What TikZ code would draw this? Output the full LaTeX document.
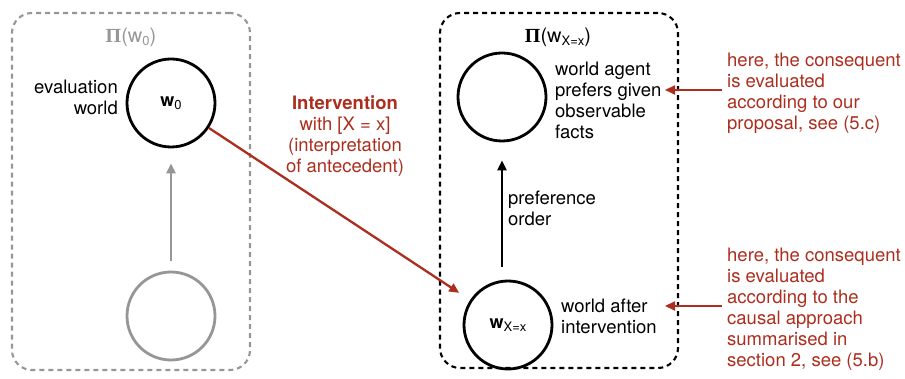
\documentclass[tikz,border=0pt]{standalone}
\usepackage{fontspec}
\setmainfont{TeX Gyre Heros}
\newfontfamily\pifont{Liberation Serif}
\usetikzlibrary{arrows.meta}
\definecolor{myred}{RGB}{172,46,30}
\definecolor{mygray}{RGB}{150,150,150}
\newcommand\subx[1]{\raisebox{-0.35ex}{\fontsize{13}{13}\selectfont\mdseries #1}}
\begin{document}
\begin{tikzpicture}[x=1pt,y=-1pt,
  world/.style={circle, draw, line width=2.8pt, minimum size=88pt, inner sep=0pt, font=\fontsize{18}{21}\selectfont\bfseries},
  lbl/.style={font=\fontsize{18.5}{21}\selectfont, inner sep=0pt},
  note/.style={lbl, text=myred, align=left},
  frame/.style={rectangle, rounded corners=20pt, line width=2.1pt, dash pattern=on 5pt off 4pt, inner sep=0pt},
  ttl/.style={inner sep=0pt, font=\fontsize{20}{22}\selectfont},
  tip/.style={-{Triangle[length=10pt,width=9pt]}, line width=2.3pt}]
\useasboundingbox (0,0) rectangle (905,379);
% frames
\node[frame, draw=mygray, minimum width=238pt, minimum height=357pt] (box0) at (131,191.5) {};
\node[frame, draw=black, minimum width=238pt, minimum height=355pt] (box1) at (559,190.5) {};
% titles
\node[ttl, text=mygray] (t0) at (131,37) {{\pifont\bfseries Π}(w\subx{0})};
\node[ttl] (t1) at (558,37) {{\pifont\bfseries Π}(w\subx{X=x})};
% worlds
\node[world] (w0) at (171,103) {w\subx{0}};
\node[world, draw=mygray] (g0) at (171,316) {};
\node[world] (wp) at (502,97) {};
\node[world] (wx) at (508,325) {w\subx{X=x}};
% labels
\node[lbl, align=right, anchor=east] (ev) at (118,97) {evaluation\\world};
\node[lbl, align=left, anchor=west] (pf) at (555,100) {world agent\\prefers given\\observable\\facts};
\node[lbl, align=left, anchor=west] (po) at (508,208) {preference\\order};
\node[lbl, align=left, anchor=west] (wa) at (561,316) {world after\\intervention};
\node[note, align=center] (iv) at (345,136) {\textbf{Intervention}\\with [X = x]\\(interpretation\\of antecedent)};
\node[note, anchor=west] (n1) at (727,93) {here, the consequent\\is evaluated\\according to our\\proposal, see (5.c)};
\node[note, anchor=west] (n2) at (727,309) {here, the consequent\\is evaluated\\according to the\\causal approach\\summarised in\\section 2, see (5.b)};
% connectors
\draw[tip, draw=mygray, fill=mygray, shorten <=10pt, shorten >=15pt] (g0) -- (w0);
\draw[tip, shorten <=13pt, shorten >=18pt] (wx.north -| wp) -- (wp);
\draw[tip, draw=myred, fill=myred, shorten >=13pt] (w0) -- (wx);
\coordinate (a1) at (665,90);
\coordinate (a2) at (665,306);
\draw[tip, draw=myred, fill=myred, shorten <=5pt] (n1.west |- a1) -- (a1);
\draw[tip, draw=myred, fill=myred, shorten <=5pt] (n2.west |- a2) -- (a2);
\end{tikzpicture}
\end{document}
